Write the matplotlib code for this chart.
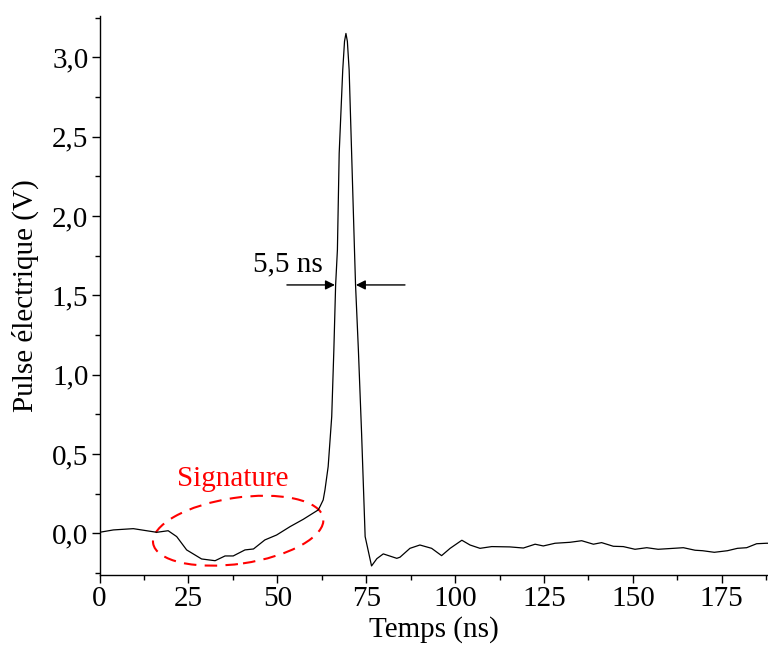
import matplotlib
matplotlib.use('Agg')
import matplotlib.pyplot as plt
import matplotlib.transforms as mtransforms
from matplotlib.patches import Ellipse
from matplotlib.ticker import MultipleLocator, FuncFormatter

# pulse trace (time in ns, voltage in V)
temps = [0, 3.9, 9.5, 16.1, 19.3, 21.7, 24.5, 28.7, 32.5, 35.3, 37.6, 40.9, 43.3,
         46.5, 49.8, 53.6, 57.3, 61.5, 62.0, 62.9, 63.4, 64.3, 65.3, 65.9, 66.4,
         66.9, 67.4, 68.4, 68.9, 69.3, 69.7, 70.2, 70.9, 71.7, 72.0, 72.8, 73.7,
         74.7, 76.5, 78.0, 79.8, 83.6, 84.5, 87.3, 90.1, 93.4, 96.2, 98.6, 101.9,
         104.2, 107.0, 110.3, 115.4, 119.2, 122.5, 124.8, 128.1, 132.3, 135.6,
         138.9, 141.2, 144.5, 147.3, 150.6, 153.9, 157.1, 161.4, 164.2, 167.5,
         169.6, 172.9, 176.6, 179.4, 182.0, 184.8, 187.6, 188.0]
pulse = [0.006, 0.021, 0.029, 0.006, 0.016, -0.021, -0.105, -0.162, -0.173, -0.143,
         -0.143, -0.105, -0.099, -0.042, -0.011, 0.042, 0.088, 0.147, 0.168, 0.21,
         0.273, 0.42, 0.735, 1.155, 1.565, 1.786, 2.395, 2.92, 3.10, 3.15, 3.10,
         2.92, 2.395, 1.786, 1.565, 1.155, 0.63, -0.021, -0.206, -0.16, -0.13,
         -0.158, -0.151, -0.095, -0.074, -0.095, -0.141, -0.095, -0.044, -0.074,
         -0.095, -0.084, -0.086, -0.093, -0.069, -0.080, -0.063, -0.057, -0.047,
         -0.069, -0.059, -0.082, -0.084, -0.101, -0.091, -0.101, -0.095, -0.091,
         -0.107, -0.110, -0.12, -0.110, -0.095, -0.091, -0.066, -0.063, -0.063]

fwhm_label = '5,5 ns'
signature_label = 'Signature'

plt.rcParams['font.family'] = ['Liberation Serif', 'DejaVu Serif']
plt.rcParams['font.size'] = 21

fig = plt.figure(figsize=(7.68, 6.5), dpi=100)
ax = fig.add_axes([0.1296, 0.1154, 0.8704, 0.86])

ax.plot(temps, pulse, color='black', lw=0.9)

ax.set_xlim(0, 188)
ax.set_ylim(-0.263, 3.26)
ax.xaxis.set_major_locator(MultipleLocator(25))
ax.xaxis.set_minor_locator(MultipleLocator(12.5))
ax.yaxis.set_major_locator(MultipleLocator(0.5))
ax.yaxis.set_minor_locator(MultipleLocator(0.25))
ax.yaxis.set_major_formatter(FuncFormatter(lambda v, p: ('%.1f' % v).replace('.', ',')))
ax.tick_params(which='major', direction='out', length=6, width=1, labelsize=21, pad=2)
ax.tick_params(which='minor', direction='out', length=3.5, width=1)
for s in ['top', 'right']:
    ax.spines[s].set_visible(False)
for s in ['left', 'bottom']:
    ax.spines[s].set_linewidth(1)

ax.set_xlabel('Temps (ns)', fontsize=21, labelpad=3)
ax.set_ylabel('Pulse électrique (V)', fontsize=21, labelpad=9)

# FWHM arrows
ax.annotate('', xy=(66.2, 1.565), xytext=(52.7, 1.565),
            arrowprops=dict(arrowstyle='-|>', color='black', lw=1, mutation_scale=14,
                            shrinkA=0, shrinkB=0))
ax.annotate('', xy=(72.1, 1.565), xytext=(85.9, 1.565),
            arrowprops=dict(arrowstyle='-|>', color='black', lw=1, mutation_scale=14,
                            shrinkA=0, shrinkB=0))
ax.text(43.2, 1.648, fwhm_label, fontsize=21, ha='left', va='baseline')

# signature highlight
ax.text(37.4, 0.298, signature_label, fontsize=21, color='red', ha='center', va='baseline')
trans = mtransforms.ScaledTranslation(39.0, 0.016, ax.transData)
ell = Ellipse((0, 0), width=172, height=66, angle=8.4, transform=trans,
              fill=False, edgecolor='red', lw=1.5, linestyle=(0, (6, 4)))
ell.set_clip_on(False)
ax.add_patch(ell)

fig.savefig('out.png', dpi=100)
